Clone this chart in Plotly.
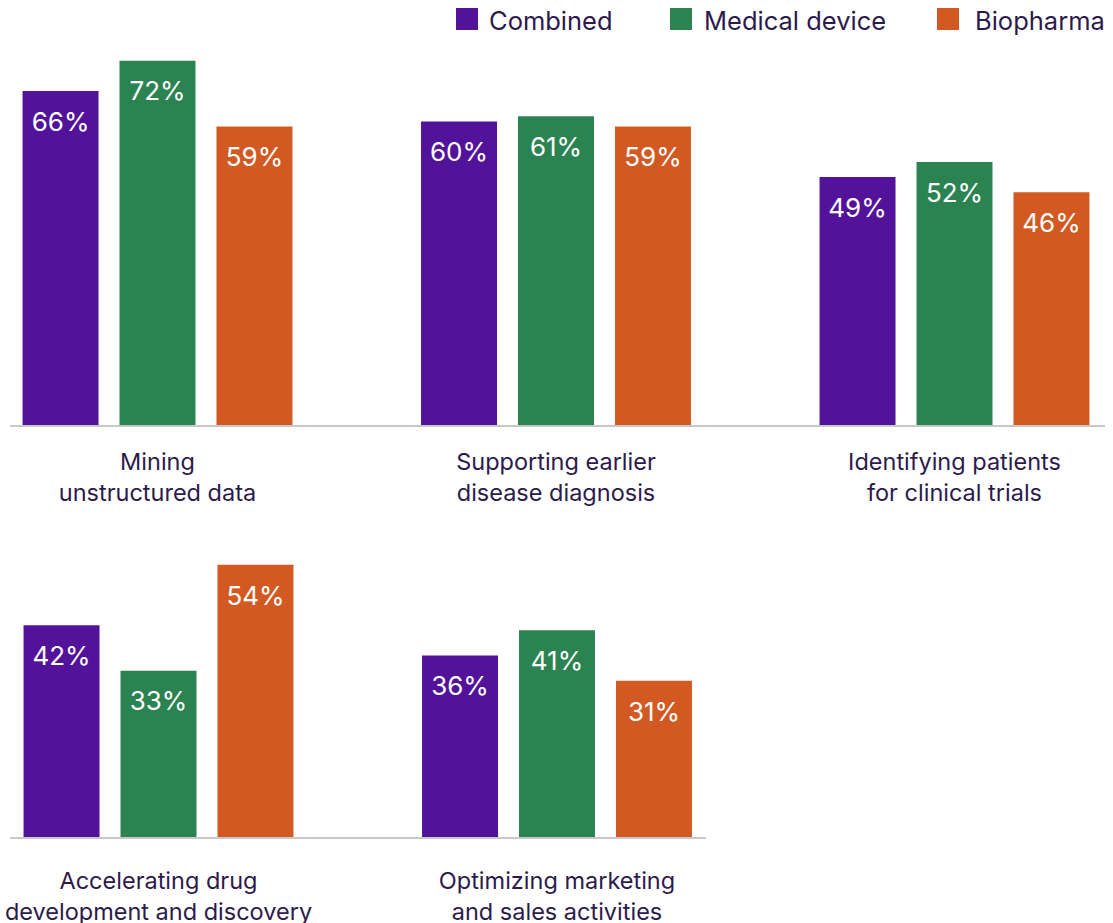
import plotly.graph_objects as go

# ---------------- data ----------------
series_names = ["Combined", "Medical device", "Biopharma"]

categories_top = [
    "Mining<br>unstructured data",
    "Supporting earlier<br>disease diagnosis",
    "Identifying patients<br>for clinical trials",
]
combined_top = [66, 60, 49]
medical_top = [72, 61, 52]
biopharma_top = [59, 59, 46]

categories_bottom = [
    "Accelerating drug<br>development and discovery",
    "Optimizing marketing<br>and sales activities",
]
combined_bottom = [42, 36]
medical_bottom = [33, 41]
biopharma_bottom = [54, 31]

# ---------------- styling ----------------
W, H = 1113, 923
colors = ["#52139A", "#2A8350", "#D25A22"]
label_color = "#2C1A4C"
FONT = "Inter"


def px_x(p):
    return p / W


def px_y(p):
    return 1 - p / H


def bar_labels(vals):
    return [f"&nbsp;<br><span style='font-size:26px'>{v}%</span>" for v in vals]


fig = go.Figure()

rows = [
    (categories_top, [combined_top, medical_top, biopharma_top], "x", "y"),
    (categories_bottom, [combined_bottom, medical_bottom, biopharma_bottom], "x2", "y2"),
]
for cats, series, xa, ya in rows:
    for name, vals, col in zip(series_names, series, colors):
        fig.add_trace(go.Bar(
            x=cats, y=vals, name=name, marker_color=col, marker_line_width=0,
            text=bar_labels(vals), textposition="inside", insidetextanchor="end",
            textangle=0, textfont=dict(family=FONT, size=16, color="white"),
            xaxis=xa, yaxis=ya, showlegend=False, hoverinfo="skip",
        ))

# group spacing: ~398.5 px per category
unit = 398.5
top_l, top_r, top_c0 = 10, 1105, 157.5
bot_l, bot_r, bot_c0 = 10, 706, 158.5

axis_common = dict(
    type="category", showgrid=False, zeroline=False, showline=True,
    linecolor="#C8C8C8", linewidth=2, ticks="outside", automargin=False,
    tickcolor="rgba(0,0,0,0)", tickfont=dict(family=FONT, size=23.5, color=label_color),
    fixedrange=True,
)
yaxis_common = dict(visible=False, range=[0, 80], fixedrange=True, automargin=False)

fig.update_layout(
    width=W, height=H,
    margin=dict(l=0, r=0, t=0, b=0, autoexpand=False),
    paper_bgcolor="white", plot_bgcolor="rgba(0,0,0,0)",
    barmode="group", bargap=0.27, bargroupgap=0.2165,
    showlegend=False,
    xaxis=dict(axis_common, domain=[px_x(top_l), px_x(top_r)], ticklen=15,
               range=[-(top_c0 - top_l) / unit, 2 + (top_r - (top_c0 + 2 * unit)) / unit],
               anchor="y"),
    yaxis=dict(yaxis_common, domain=[px_y(425), px_y(425) + 80 * 5.06 / H], anchor="x"),
    xaxis2=dict(axis_common, domain=[px_x(bot_l), px_x(bot_r)], ticklen=22,
                range=[-(bot_c0 - bot_l) / unit, 1 + (bot_r - (bot_c0 + unit)) / unit],
                anchor="y2"),
    yaxis2=dict(yaxis_common, domain=[px_y(837), px_y(837) + 80 * 5.04 / H], anchor="x2"),
)

# ---------------- legend (manual) ----------------
legend_sq_x = [456, 670, 937]
legend_tx_x = [487, 702, 973]
for name, col, sx, tx in zip(series_names, colors, legend_sq_x, legend_tx_x):
    fig.add_shape(type="rect", xref="paper", yref="paper",
                  x0=px_x(sx), x1=px_x(sx + 22), y0=px_y(30), y1=px_y(8),
                  fillcolor=col, line_width=0)
    fig.add_annotation(text=name, xref="paper", yref="paper", x=px_x(tx), y=px_y(20),
                       xanchor="left", yanchor="middle", showarrow=False,
                       font=dict(family=FONT, size=25.5, color=label_color))

fig.write_html("out.html")
